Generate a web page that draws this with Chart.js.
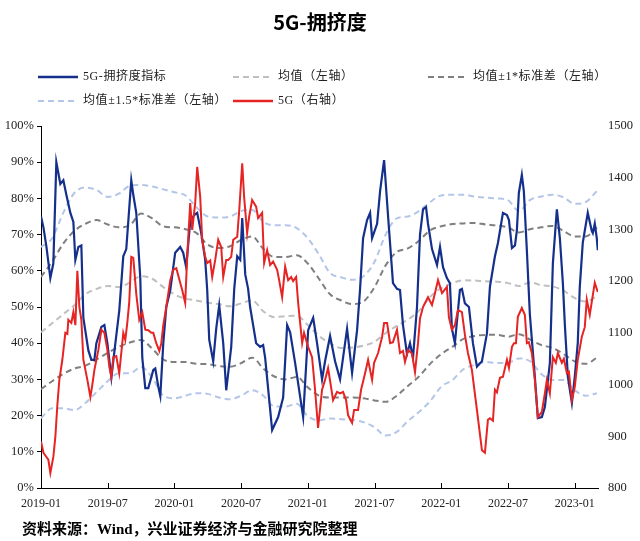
<!DOCTYPE html>
<html><head><meta charset="utf-8">
<script src="https://cdn.jsdelivr.net/npm/chart.js@4.4.1/dist/chart.umd.min.js"></script>
<style>
html,body{margin:0;padding:0;background:#fff;}
#wrap{position:relative;width:640px;height:541px;overflow:hidden;background:#fff;}
#c{position:absolute;left:0;top:0;}
#title{position:absolute;left:0;top:9px;width:640px;text-align:center;font-weight:700;font-size:20px;font-family:"Noto Sans CJK SC",sans-serif;color:#000;line-height:26px;}
.leg{position:absolute;display:flex;align-items:center;font-size:12px;letter-spacing:0.6px;font-family:"Liberation Serif","Noto Sans CJK SC",serif;color:#222;white-space:nowrap;line-height:17px;}
.leg svg{margin-right:5px;display:block;}
#src{position:absolute;left:22px;top:519px;font-weight:700;font-size:15px;font-family:"Liberation Serif","Noto Sans CJK SC",serif;color:#000;line-height:20px;}
</style></head>
<body><div id="wrap">
<canvas id="c" width="640" height="541"></canvas>
<div id="title">5G-拥挤度</div>
<div id="legend"></div>
<div id="src">资料来源：Wind，兴业证券经济与金融研究院整理</div>
</div>
<script>
// ---- tick labels (months since 2019-01) ----
const tickMonths = [0, 6, 12, 18, 24, 30, 36, 42, 48];
const tickLabels = ['2019-01','2019-07','2020-01','2020-07','2021-01','2021-07','2022-01','2022-07','2023-01'];

// ---- 5G crowding index (left axis, %) ----
const blueMonths = [0,0.22,0.49,0.84,1.11,1.38,1.74,2.01,2.28,2.64,2.91,3.09,3.36,3.63,3.81,4.26,4.53,4.80,4.98,5.43,5.70,5.97,6.33,6.69,7.04,7.40,7.67,8.12,8.30,8.57,8.93,9.11,9.38,9.65,10.10,10.28,10.55,10.73,11.00,11.27,11.63,12.07,12.52,12.79,13.06,13.42,13.78,14.05,14.41,14.77,14.95,15.13,15.49,15.76,16.03,16.39,16.66,17.11,17.38,17.65,17.92,18.10,18.37,18.63,18.81,19.08,19.35,19.71,19.98,20.16,20.79,21.33,21.78,22.14,22.41,22.86,23.58,24.03,24.48,24.83,25.28,25.55,26.00,26.45,26.90,27.53,27.98,28.43,28.70,28.97,29.33,29.60,29.78,30.23,30.50,30.86,31.22,31.66,32.02,32.29,32.56,32.92,33.19,33.46,33.82,34.09,34.36,34.63,34.81,35.17,35.62,35.89,36.16,36.51,36.78,36.96,37.23,37.68,37.86,38.13,38.49,38.85,39.21,39.66,40.11,40.38,40.83,41.10,41.55,41.91,42.09,42.36,42.63,42.80,42.98,43.25,43.43,43.70,43.97,44.42,44.69,45.05,45.32,45.77,46.04,46.40,46.67,46.94,47.12,47.39,47.75,48.01,48.28,48.46,48.73,49.18,49.54,49.63,49.81,49.99,50.08];
const blueValues = [75,72,66.6,58,62,90,84,85,81,76,73.5,63,66.6,67,47,38,35.4,35.4,40,44.5,45,40,30.5,40,49,64,66,85,81,76,58,36,27.6,27.6,32.6,33,28,25.4,40,50,54.7,65,66.6,65,61,73.5,75.4,76,70.4,63,54.7,41,35,44,50.5,40,27,39,55,64,63,74.6,59,55,50,45,40,39,39.5,36,16,19.6,25,45,43,34.5,19.6,43.6,47,40,30,35,42,35,30,44,31.8,43.6,55,69,74,76,69,73,82,90.6,75,56.6,55,54.7,45,37,40,36,50,70,77,77.6,73,66,61.6,66.6,61,58,56.6,44,40,54.7,55,51,50,40,33.5,35,42.7,55.6,64,67.7,76,75.4,74,66.3,67,71,81.5,86.5,82,65.7,48,30.7,19.3,19.6,22.4,34.5,62,77,69,56.6,45,30.7,23.5,30.7,40,55.5,67.7,76,71,70.4,73,69,65.7];

// ---- 5G index (right axis) ----
const redMonths = [0,0.22,0.49,0.66,0.84,1.11,1.29,1.47,1.65,1.92,2.19,2.37,2.46,2.73,2.91,3.09,3.27,3.45,3.63,3.81,4.17,4.44,4.62,4.80,5.16,5.43,5.70,5.97,6.15,6.33,6.50,6.77,7.04,7.40,7.58,7.76,7.94,8.12,8.30,8.57,8.84,9.11,9.38,9.65,9.92,10.10,10.37,10.64,10.82,11.00,11.27,11.63,11.90,12.17,12.52,12.70,12.97,13.15,13.42,13.60,13.87,14.05,14.32,14.50,14.77,14.95,15.22,15.40,15.67,15.94,16.21,16.39,16.66,16.84,17.11,17.29,17.65,17.83,18.10,18.27,18.54,18.72,18.99,19.35,19.53,19.89,20.07,20.34,20.61,20.88,21.24,21.42,21.69,21.96,22.23,22.50,22.68,22.95,23.13,23.49,23.66,24.03,24.38,24.65,24.92,25.28,25.55,25.82,26.09,26.27,26.63,26.90,27.17,27.44,27.62,27.98,28.16,28.52,28.79,29.15,29.42,29.78,29.96,30.32,30.68,30.86,31.13,31.40,31.66,32.02,32.29,32.56,32.74,33.01,33.37,33.64,33.91,34.09,34.36,34.81,35.17,35.44,35.71,36.07,36.51,36.69,36.96,37.23,37.50,37.86,38.13,38.40,38.76,39.21,39.66,39.93,40.20,40.38,40.65,40.83,41.01,41.28,41.55,41.91,42.09,42.36,42.54,42.72,42.89,43.25,43.52,43.70,43.88,44.15,44.42,44.69,45.05,45.32,45.50,45.77,46.04,46.31,46.49,46.85,47.03,47.30,47.48,47.75,48.01,48.28,48.64,48.91,49.09,49.36,49.81,50.08];
const redValues = [890,868,860,855,829,860,899,960,1009,1048,1100,1098,1125,1119,1140,1115,1220,1150,1125,1048,1009,976,1000,1028,1067,1106,1100,1067,1034,1015,1053,1055,1022,1100,1086,1119,1160,1247,1245,1175,1125,1140,1106,1105,1100,1100,1080,1065,1080,1115,1150,1202,1222,1225,1197,1183,1158,1247,1351,1299,1351,1421,1363,1280,1247,1235,1240,1208,1241,1280,1266,1208,1241,1241,1247,1280,1286,1337,1428,1363,1293,1324,1357,1344,1322,1332,1235,1260,1231,1238,1222,1202,1169,1228,1202,1208,1200,1208,1158,1080,1100,1073,1053,990,916,990,1009,1032,995,970,986,983,986,970,941,926,951,951,990,1022,1048,1009,1042,1061,1092,1119,1119,1080,1082,1106,1061,1065,1044,1067,1060,1024,1080,1128,1150,1169,1154,1177,1202,1177,1189,1130,1106,1115,1144,1140,1096,1061,1028,951,873,868,932,935,930,990,985,1013,1015,1048,1032,1073,1080,1080,1131,1148,1135,1080,1082,1061,1009,937,947,983,1009,983,1053,1042,1061,1042,1050,1022,1025,970,995,1048,1092,1111,1164,1135,1197,1179];

// ---- rolling mean / std bands (left axis, %), monthly ----
const bandMonths = [0,1,2,3,4,5,6,7,8,9,10,11,12,13,14,15,16,17,18,19,20,21,22,23,24,25,26,27,28,29,30,31,32,33,34,35,36,37,38,39,40,41,42,43,44,45,46,47,48,49,50];
const meanValues   = [43,45.5,48,50.5,53.5,55,55.8,55.5,56.8,58.5,57.8,55.5,53.5,52.3,51.8,51.2,50.8,50.2,51,51.8,48.8,47.2,47.5,47.6,45,42,40,38.7,38.8,39.3,40.4,42.8,44.8,46.5,49,52.8,55.2,56.6,57.4,57.3,57.1,57,56.6,55.8,56.8,56,55.7,54.5,52.5,51.5,53];
const plus1Values  = [58.3,62.5,67.5,71,73,74,72.8,72,72.6,75.8,74.5,72.3,72,71.5,70.4,67.2,66.3,66.8,68.5,69.5,66,63.8,63.8,64.3,62,57.8,53.5,51.8,50.8,51.5,55.5,61.5,65.2,66.2,68.3,71.2,72.3,72.9,73.1,73.2,72.8,72.5,72,70.6,71.5,72,72.4,71,69.5,69.5,72];
const minus1Values = [27.3,29.5,31.5,33,33.8,35.5,37.3,39,40.2,40.9,38.5,35.5,34.8,34.8,34.3,34.2,33.7,33.5,34.5,36,33,30.8,30,30.7,27.8,25.5,25,25,25,24.8,24.2,23.8,25.5,28.2,30.8,34.3,37,39,41.2,42,42.3,42.3,41.8,42.5,41,39.5,38.7,37,35,34.3,36];
const plus15Values = [66.6,69,76,81.5,83,82.3,80.4,81.3,83.5,83.7,83.3,82.5,81.7,80.8,77.5,75,74.7,75,76.5,76.8,73.5,72.6,72.6,71.8,69,64.5,59.4,58.2,57.5,58.5,62.5,70,74.5,75,76.5,79,80.8,81,81,80.5,80.2,80,79.5,76.5,79.6,80.5,81,80.3,78.5,79,82];
const minus15Values= [19.3,22,22,21.5,23.5,26.5,29.5,31.7,31.7,33.4,30.5,25.5,24.8,25.5,26.2,26,25,24.5,25.5,27,25.5,22.5,22.5,23.3,19.8,18.7,19.2,19,18.8,18.2,16.8,14.5,15.5,18.5,21,24,28,29.8,32.8,34,34.8,34.5,34.6,35.8,35,31.5,29.8,29.8,27,25.5,26.2];

// ---- legend ----
const legendEntries = [
  {label:'5G-拥挤度指标', color:'#14308c', dash:null, w:2.5},
  {label:'均值（左轴）', color:'#bfbfbf', dash:'6 4', w:2},
  {label:'均值±1*标准差（左轴）', color:'#7f7f7f', dash:'6 4', w:2},
  {label:'均值±1.5*标准差（左轴）', color:'#b4c6e7', dash:'6 4', w:2},
  {label:'5G（右轴）', color:'#e62424', dash:null, w:2.5}
];
const legendPos = [[38,68],[233,68],[428,68],[38,92],[233,92]];

function check(a,b,n){ if(a.length!==b.length) throw new Error(n+' length mismatch '+a.length+' vs '+b.length); }
check(blueMonths,blueValues,'blue'); check(redMonths,redValues,'red');
[meanValues,plus1Values,minus1Values,plus15Values,minus15Values].forEach((v,i)=>check(bandMonths,v,'band'+i));

const zip = (xs, ys) => xs.map((x,i)=>({x:x, y:ys[i]}));

const leg = document.getElementById('legend');
legendEntries.forEach((e,i)=>{
  const d = document.createElement('div');
  d.className='leg';
  d.style.left = legendPos[i][0]+'px';
  d.style.top = legendPos[i][1]+'px';
  d.innerHTML = '<svg width="40" height="10"><line x1="0" y1="5" x2="40" y2="5" stroke="'+e.color+'" stroke-width="'+e.w+'"'+(e.dash?' stroke-dasharray="'+e.dash+'"':'')+'/></svg><span>'+e.label+'</span>';
  leg.appendChild(d);
});

const innerTicks = {
  id:'innerTicks',
  afterDraw(chart){
    const s = chart.scales.x, ctx = chart.ctx;
    ctx.save(); ctx.strokeStyle='#000'; ctx.lineWidth=1; ctx.beginPath();
    s.ticks.forEach(t=>{ const px=Math.round(s.getPixelForValue(t.value))+0.5; ctx.moveTo(px,s.top); ctx.lineTo(px,s.top-5); });
    ctx.stroke(); ctx.restore();
  }
};

const dashed = (label, data, color, order) => ({
  label, data, borderColor:color, borderWidth:2, borderDash:[6,4], pointRadius:0,
  fill:false, tension:0.4, cubicInterpolationMode:'monotone', yAxisID:'y', order
});

new Chart(document.getElementById('c'), {
  type:'line',
  data:{ datasets:[
    {label:'5G（右轴）', data:zip(redMonths,redValues), borderColor:'#e62424', borderWidth:2, pointRadius:0, tension:0, yAxisID:'y2', order:0},
    {label:'5G-拥挤度指标', data:zip(blueMonths,blueValues), borderColor:'#14308c', borderWidth:2.2, pointRadius:0, tension:0, yAxisID:'y', order:1},
    dashed('均值（左轴）', zip(bandMonths,meanValues), '#bfbfbf', 2),
    dashed('均值+1*标准差（左轴）', zip(bandMonths,plus1Values), '#7f7f7f', 3),
    dashed('均值-1*标准差（左轴）', zip(bandMonths,minus1Values), '#7f7f7f', 4),
    dashed('均值+1.5*标准差（左轴）', zip(bandMonths,plus15Values), '#b4c6e7', 5),
    dashed('均值-1.5*标准差（左轴）', zip(bandMonths,minus15Values), '#b4c6e7', 6)
  ]},
  options:{
    responsive:false, animation:false, devicePixelRatio:1,
    layout:{padding:{top:126,left:0,right:0,bottom:0}},
    plugins:{legend:{display:false}, title:{display:false}, tooltip:{enabled:false}},
    scales:{
      x:{type:'linear', min:0, max:50.1,
        afterFit(s){ s.height = 53; },
        afterBuildTicks(s){ s.ticks = tickMonths.map(v=>({value:v})); },
        ticks:{ autoSkip:false, maxRotation:0, padding:9, color:'#222',
          font:{family:'"Liberation Serif", serif', size:12},
          callback:(v,i)=>tickLabels[i] },
        grid:{display:false, drawTicks:false},
        border:{display:true, color:'#000', width:1}
      },
      y:{position:'left', min:0, max:100,
        afterFit(s){ s.width = 41; },
        ticks:{ stepSize:10, padding:3, color:'#222', font:{family:'"Liberation Serif", serif', size:12.5}, callback:v=>v+'%' },
        grid:{display:true, drawOnChartArea:false, drawTicks:true, tickLength:4, color:'#000'},
        border:{display:true, color:'#000', width:1}
      },
      y2:{position:'right', min:800, max:1500,
        afterFit(s){ s.width = 42; },
        ticks:{ stepSize:100, padding:10, color:'#222', font:{family:'"Liberation Serif", serif', size:12.5}, callback:v=>String(v) },
        grid:{display:false, drawTicks:false},
        border:{display:false}
      }
    }
  },
  plugins:[innerTicks]
});
</script>
</body></html>
